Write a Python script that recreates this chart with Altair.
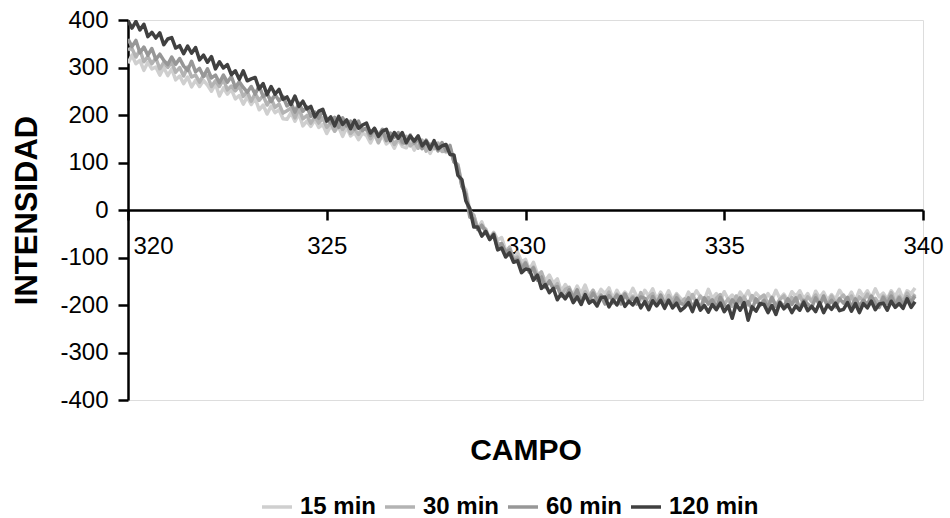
import altair as alt
import pandas as pd

CAMPO = [
    320.0, 320.1, 320.2, 320.3, 320.4, 320.5, 320.6, 320.7, 320.8, 320.9,
    321.0, 321.1, 321.2, 321.3, 321.4, 321.5, 321.6, 321.7, 321.8, 321.9,
    322.0, 322.1, 322.2, 322.3, 322.4, 322.5, 322.6, 322.7, 322.8, 322.9,
    323.0, 323.1, 323.2, 323.3, 323.4, 323.5, 323.6, 323.7, 323.8, 323.9,
    324.0, 324.1, 324.2, 324.3, 324.4, 324.5, 324.6, 324.7, 324.8, 324.9,
    325.0, 325.1, 325.2, 325.3, 325.4, 325.5, 325.6, 325.7, 325.8, 325.9,
    326.0, 326.1, 326.2, 326.3, 326.4, 326.5, 326.6, 326.7, 326.8, 326.9,
    327.0, 327.1, 327.2, 327.3, 327.4, 327.5, 327.6, 327.7, 327.8, 327.9,
    328.0, 328.1, 328.2, 328.3, 328.4, 328.5, 328.6, 328.7, 328.8, 328.9,
    329.0, 329.1, 329.2, 329.3, 329.4, 329.5, 329.6, 329.7, 329.8, 329.9,
    330.0, 330.1, 330.2, 330.3, 330.4, 330.5, 330.6, 330.7, 330.8, 330.9,
    331.0, 331.1, 331.2, 331.3, 331.4, 331.5, 331.6, 331.7, 331.8, 331.9,
    332.0, 332.1, 332.2, 332.3, 332.4, 332.5, 332.6, 332.7, 332.8, 332.9,
    333.0, 333.1, 333.2, 333.3, 333.4, 333.5, 333.6, 333.7, 333.8, 333.9,
    334.0, 334.1, 334.2, 334.3, 334.4, 334.5, 334.6, 334.7, 334.8, 334.9,
    335.0, 335.1, 335.2, 335.3, 335.4, 335.5, 335.6, 335.7, 335.8, 335.9,
    336.0, 336.1, 336.2, 336.3, 336.4, 336.5, 336.6, 336.7, 336.8, 336.9,
    337.0, 337.1, 337.2, 337.3, 337.4, 337.5, 337.6, 337.7, 337.8, 337.9,
    338.0, 338.1, 338.2, 338.3, 338.4, 338.5, 338.6, 338.7, 338.8, 338.9,
    339.0, 339.1, 339.2, 339.3, 339.4, 339.5, 339.6, 339.7, 339.8,
]

MIN_15 = [
    309, 326, 308, 315, 294, 311, 297, 301, 284, 300,
    283, 297, 274, 282, 266, 280, 259, 273, 260, 273,
    263, 250, 266, 240, 257, 244, 254, 234, 241, 223,
    238, 222, 235, 211, 221, 202, 219, 205, 211, 192,
    191, 205, 187, 203, 177, 187, 176, 190, 174, 180,
    161, 177, 166, 175, 155, 174, 156, 163, 148, 162,
    157, 141, 159, 141, 158, 139, 146, 130, 148, 134,
    131, 146, 126, 139, 130, 140, 119, 137, 124, 137,
    121, 130, 102, 96, 54, 42, -1, -12, -39, -25,
    -47, -59, -47, -63, -58, -85, -81, -104, -89, -109,
    -104, -126, -110, -135, -132, -149, -137, -154, -145, -171,
    -157, -168, -178, -160, -176, -158, -180, -169, -183, -167,
    -176, -164, -187, -169, -184, -173, -183, -165, -182, -190,
    -169, -181, -166, -188, -173, -187, -170, -190, -176, -186,
    -192, -173, -185, -170, -183, -189, -167, -186, -176, -190,
    -172, -188, -179, -192, -173, -185, -170, -190, -175, -184,
    -191, -176, -189, -169, -187, -177, -191, -172, -182, -170,
    -187, -176, -193, -171, -185, -173, -190, -178, -188, -169,
    -182, -188, -173, -191, -169, -182, -170, -185, -166, -183,
    -175, -188, -170, -182, -167, -188, -170, -176, -164,
]

MIN_30 = [
    338, 340, 322, 337, 312, 323, 308, 320, 297, 311,
    300, 311, 290, 300, 282, 301, 280, 284, 269, 284,
    282, 260, 272, 260, 275, 253, 261, 251, 261, 239,
    249, 229, 245, 231, 241, 221, 235, 216, 223, 204,
    209, 215, 194, 214, 192, 199, 183, 196, 183, 194,
    174, 184, 166, 184, 169, 183, 161, 170, 159, 173,
    169, 150, 163, 142, 164, 150, 157, 138, 150, 139,
    155, 135, 142, 130, 147, 124, 139, 129, 141, 123,
    124, 132, 101, 95, 50, 34, -5, -11, -41, -36,
    -40, -62, -49, -71, -71, -90, -78, -104, -99, -119,
    -110, -131, -120, -140, -130, -158, -151, -165, -155, -180,
    -167, -163, -183, -176, -190, -172, -184, -169, -191, -178,
    -189, -173, -196, -177, -186, -176, -193, -181, -196, -174,
    -191, -183, -176, -196, -181, -201, -180, -192, -179, -196,
    -187, -199, -178, -196, -181, -193, -184, -202, -186, -178,
    -199, -187, -203, -181, -196, -183, -200, -180, -194, -185,
    -179, -198, -186, -201, -188, -181, -203, -184, -194, -180,
    -199, -183, -192, -179, -198, -186, -201, -181, -196, -187,
    -179, -194, -181, -201, -183, -191, -177, -196, -186, -198,
    -181, -191, -174, -195, -181, -193, -175, -187, -177,
]

MIN_60 = [
    360, 344, 357, 331, 343, 326, 340, 317, 328, 315,
    306, 322, 307, 319, 303, 294, 313, 291, 298, 281,
    297, 278, 284, 268, 284, 269, 281, 258, 270, 258,
    248, 260, 244, 261, 239, 245, 228, 243, 230, 239,
    219, 226, 206, 225, 208, 217, 197, 206, 193, 209,
    192, 183, 195, 174, 194, 177, 187, 170, 187, 167,
    173, 157, 172, 157, 170, 146, 162, 153, 163, 143,
    140, 158, 141, 149, 129, 147, 134, 140, 125, 142,
    125, 136, 102, 91, 50, 33, -15, -19, -41, -32,
    -46, -62, -50, -81, -71, -89, -84, -107, -104, -124,
    -112, -131, -122, -148, -141, -163, -149, -165, -161, -181,
    -182, -168, -185, -168, -193, -181, -191, -175, -189, -181,
    -198, -180, -190, -179, -198, -177, -193, -185, -198, -183,
    -186, -200, -182, -198, -179, -198, -189, -203, -185, -197,
    -199, -185, -204, -190, -206, -185, -198, -189, -205, -184,
    -200, -207, -189, -198, -185, -204, -193, -209, -187, -201,
    -190, -206, -184, -203, -193, -204, -187, -199, -185, -207,
    -190, -198, -205, -185, -200, -181, -202, -190, -204, -187,
    -196, -184, -205, -187, -202, -190, -199, -181, -197, -205,
    -184, -197, -181, -200, -185, -201, -183, -194, -181,
]

MIN_120 = [
    398, 383, 397, 379, 391, 365, 374, 362, 373, 348,
    360, 363, 341, 346, 329, 345, 330, 342, 316, 326,
    311, 323, 297, 312, 299, 306, 285, 293, 275, 293,
    272, 276, 279, 255, 266, 243, 260, 244, 254, 233,
    238, 222, 240, 218, 229, 213, 218, 196, 208, 212,
    187, 196, 177, 197, 180, 190, 171, 189, 172, 179,
    183, 162, 172, 155, 166, 170, 146, 163, 151, 163,
    142, 156, 145, 156, 135, 145, 128, 146, 129, 135,
    138, 117, 116, 73, 64, 19, 3, -36, -36, -55,
    -45, -62, -52, -84, -80, -99, -90, -110, -107, -132,
    -124, -126, -148, -137, -165, -157, -174, -165, -189, -176,
    -187, -175, -195, -183, -199, -178, -196, -190, -202, -184,
    -183, -204, -189, -200, -182, -203, -192, -200, -186, -206,
    -193, -210, -191, -202, -190, -207, -190, -206, -196, -212,
    -205, -195, -214, -191, -211, -201, -215, -199, -210, -196,
    -214, -202, -228, -198, -211, -195, -232, -204, -213, -197,
    -199, -216, -201, -220, -195, -208, -199, -216, -202, -211,
    -194, -212, -203, -214, -195, -216, -200, -209, -196, -212,
    -209, -195, -213, -197, -216, -197, -206, -192, -210, -198,
    -196, -211, -192, -205, -197, -207, -187, -205, -193,
]

SERIES = ["15 min", "30 min", "60 min", "120 min"]
COLORS = ["#cfcfcf", "#b3b3b3", "#979797", "#404040"]
WIDTHS = [3.5, 3.5, 3.5, 2.5]
Y_TICKS = [-400, -300, -200, -100, 0, 100, 200, 300, 400]
X_TICKS = [320, 325, 330, 335, 340]

rows = []
for name, values in zip(SERIES, [MIN_15, MIN_30, MIN_60, MIN_120]):
    for i, (c, v) in enumerate(zip(CAMPO, values)):
        rows.append({"campo": c, "intensidad": v, "serie": name, "idx": i})
df = pd.DataFrame(rows)

FONT = "Liberation Sans"

chart = (
    alt.Chart(df)
    .mark_line(clip=True, strokeJoin="round")
    .encode(
        x=alt.X(
            "campo:Q",
            scale=alt.Scale(domain=[320, 340], nice=False, zero=False),
            axis=alt.Axis(
                title="CAMPO",
                values=X_TICKS,
                offset=-190,
                grid=False,
                domainColor="black",
                domainWidth=2.5,
                tickColor="black",
                tickWidth=2.5,
                tickSize=10,
                labelFont=FONT,
                labelFontSize=24,
                labelColor="black",
                labelPadding=14,
                labelExpr="datum.value + ''",
                labelAlign={"condition": {"test": "datum.value <= 320", "value": "left"}, "value": "center"},
                labelOffset={"condition": {"test": "datum.value <= 320", "value": 5}, "value": 0},
                titleFont=FONT,
                titleFontSize=30,
                titleFontWeight="bold",
                titleColor="black",
                titleY=240,
                titleBaseline="middle",
            ),
        ),
        y=alt.Y(
            "intensidad:Q",
            scale=alt.Scale(domain=[-400, 400], nice=False),
            axis=alt.Axis(
                title="INTENSIDAD",
                values=Y_TICKS,
                grid=False,
                domainColor="black",
                domainWidth=2.5,
                tickColor="black",
                tickWidth=2.5,
                tickSize=10,
                labelFont=FONT,
                labelFontSize=24,
                labelColor="black",
                labelPadding=10,
                labelExpr="datum.value + ''",
                titleFont=FONT,
                titleFontSize=31,
                titleFontWeight="bold",
                titleColor="black",
                titlePadding=16,
            ),
        ),
        color=alt.Color(
            "serie:N",
            sort=SERIES,
            scale=alt.Scale(domain=SERIES, range=COLORS),
            legend=alt.Legend(
                title=None,
                orient="none",
                direction="horizontal",
                legendX=132,
                legendY=470,
                symbolType="stroke",
                symbolSize=900,
                symbolStrokeWidth=3,
                labelFont=FONT,
                labelFontSize=24,
                labelFontWeight="bold",
                labelColor="black",
                labelOffset=6,
                columnPadding=1,
                gridAlign="none",
                padding=0,
            ),
        ),
        strokeWidth=alt.StrokeWidth(
            "serie:N",
            scale=alt.Scale(domain=SERIES, range=WIDTHS),
            legend=None,
        ),
        order="idx:Q",
    )
    .properties(
        width=795,
        height=380,
        autosize=alt.AutoSizeParams(type="none"),
        padding={"left": 128, "top": 20, "right": 27, "bottom": 118},
    )
    .configure_view(stroke=None)
    .configure(background="white")
)

chart.save("out.html", embed_options={"renderer": "svg", "actions": False})
